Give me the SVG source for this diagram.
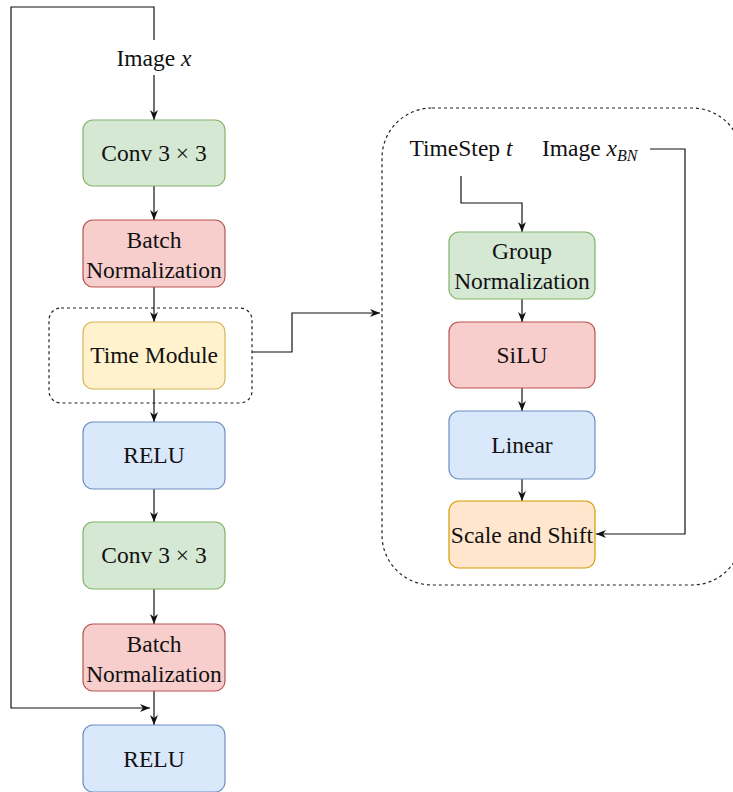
<svg xmlns="http://www.w3.org/2000/svg" width="733" height="792" viewBox="0 0 733 792">
<style>
text{font-family:"Liberation Serif","Times New Roman",serif;font-size:23.5px;fill:#111;text-anchor:middle}
.green{fill:#d5e8d4;stroke:#82b366;stroke-width:1.2}
.red{fill:#f8cecc;stroke:#b85450;stroke-width:1.2}
.yellow{fill:#fff2cc;stroke:#d6b656;stroke-width:1.2}
.blue{fill:#dae8fc;stroke:#6c8ebf;stroke-width:1.2}
.orange{fill:#ffe6cc;stroke:#d79b00;stroke-width:1.2}
.dash{fill:none;stroke:#222;stroke-width:1.2;stroke-dasharray:3 3}
.c{fill:none;stroke:#111;stroke-width:1.2}
.a{marker-end:url(#arr)}
.it{font-style:italic}
</style>
<defs>
<marker id="arr" viewBox="0 0 10 10" refX="10" refY="5" markerWidth="10" markerHeight="10" markerUnits="userSpaceOnUse" orient="auto">
<path d="M0,1 L10,5 L0,9 L3,5 z" fill="#111"/>
</marker>
</defs>
<rect width="733" height="792" fill="#fff"/>

<g id="time-module-frame"><rect class="dash" x="49" y="308" width="203" height="95" rx="12"/></g>
<g id="time-module-panel"><rect class="dash" x="382" y="108" width="360" height="477" rx="50"/></g>

<g id="connectors">
<path class="c a" d="M154,75 V120"/>
<path class="c a" d="M154,186 V220"/>
<path class="c a" d="M154,287 V322"/>
<path class="c a" d="M154,389 V422"/>
<path class="c a" d="M154,489 V522"/>
<path class="c a" d="M154,589 V624"/>
<path class="c a" d="M154,691 V725"/>
<path class="c a" d="M154,40 V7 H11 V708 H150"/>
<path class="c a" d="M252,352 H292 V313 H380"/>
<path class="c a" d="M461,176 V203 H522 V232"/>
<path class="c a" d="M522,299 V322"/>
<path class="c a" d="M522,388 V411"/>
<path class="c a" d="M522,479 V501"/>
<path class="c a" d="M650,149 H685 V534 H596"/>
</g>

<g id="image-x"><text x="154" y="66">Image <tspan class="it">x</tspan></text></g>
<g id="conv1"><rect class="green" x="83" y="120" width="142" height="66" rx="10"/><text x="154" y="161">Conv 3 × 3</text></g>
<g id="bn1"><rect class="red" x="83" y="220" width="142" height="67" rx="10"/><text x="154" y="248">Batch</text><text x="154" y="278">Normalization</text></g>
<g id="time-module"><rect class="yellow" x="83" y="322" width="142" height="67" rx="10"/><text x="154" y="363">Time Module</text></g>
<g id="relu1"><rect class="blue" x="83" y="422" width="142" height="67" rx="10"/><text x="154" y="463">RELU</text></g>
<g id="conv2"><rect class="green" x="83" y="522" width="142" height="67" rx="10"/><text x="154" y="563">Conv 3 × 3</text></g>
<g id="bn2"><rect class="red" x="83" y="624" width="142" height="67" rx="10"/><text x="154" y="652">Batch</text><text x="154" y="682">Normalization</text></g>
<g id="relu2"><rect class="blue" x="83" y="725" width="142" height="67" rx="10"/><text x="154" y="767">RELU</text></g>

<g id="timestep"><text x="461" y="156">TimeStep <tspan class="it">t</tspan></text></g>
<g id="image-xbn"><text x="542" y="156" style="text-anchor:start">Image <tspan class="it">x</tspan><tspan class="it" font-size="16" dy="5">BN</tspan></text></g>
<g id="group-norm"><rect class="green" x="449" y="232" width="146" height="67" rx="10"/><text x="522" y="259">Group</text><text x="522" y="289">Normalization</text></g>
<g id="silu"><rect class="red" x="449" y="322" width="146" height="66" rx="10"/><text x="522" y="363">SiLU</text></g>
<g id="linear"><rect class="blue" x="449" y="411" width="146" height="68" rx="10"/><text x="522" y="453">Linear</text></g>
<g id="scale-shift"><rect class="orange" x="449" y="501" width="146" height="67" rx="10"/><text x="522" y="543">Scale and Shift</text></g>
</svg>
